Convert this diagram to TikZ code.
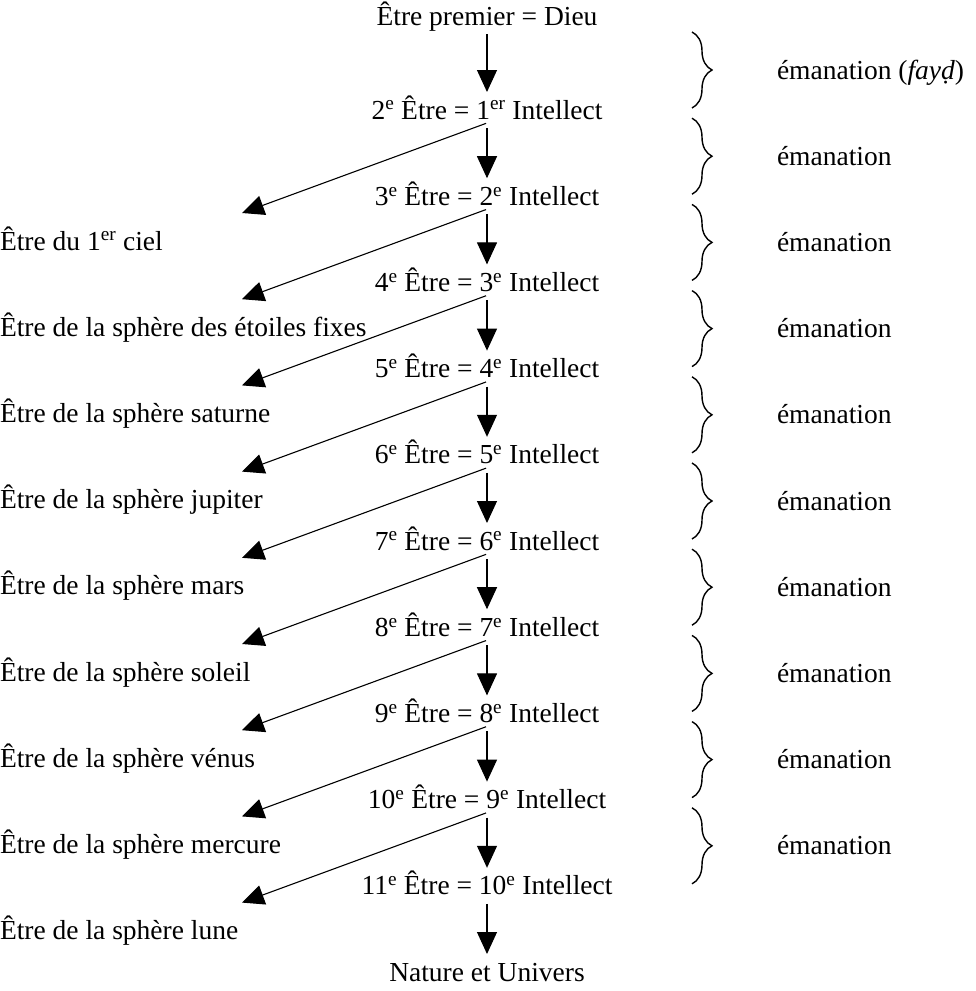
\documentclass[tikz,border=0pt]{standalone}
\usepackage{fontspec}
\setmainfont{Liberation Serif}
\usetikzlibrary{arrows.meta,decorations.pathreplacing}
\begin{document}
\begin{tikzpicture}[x=1pt,y=-1pt,
  txt/.style={font=\fontsize{27.5}{33}\selectfont, inner sep=0pt, outer sep=0pt, text height=22pt, text depth=4pt},
  arr/.style={line width=1.1pt, -{Triangle[length=22pt,width=20pt]}},
  brc/.style={line width=1.4pt, decorate, decoration={brace, amplitude=20pt}}]
\useasboundingbox (0,0) rectangle (976,991);
% central column
\node[txt] (c0) at (487,16) {Être premier = Dieu};
\node[txt] (c1) at (487,110) {2\textsuperscript{e} Être = 1\textsuperscript{er} Intellect};
\foreach \i [evaluate=\i as \n using int(\i+1), evaluate=\i as \y using 110+86.2*(\i-1)] in {2,...,10}
  \node[txt] (c\i) at (487,\y) {\n\textsuperscript{e} Être = \i\textsuperscript{e} Intellect};
\node[txt] (c11) at (487,972) {Nature et Univers};
% left labels
\node[txt, anchor=west] (l0) at (0,241) {Être du 1\textsuperscript{er} ciel};
\foreach \j/\s in {1/des étoiles fixes,2/saturne,3/jupiter,4/mars,5/soleil,6/vénus,7/mercure,8/lune}
  \node[txt, anchor=west] (l\j) at (0,241+86.2*\j) {Être de la sphère \s};
% vertical arrows
\foreach \i [evaluate=\i as \k using int(\i+1)] in {0,...,10}
  \draw[arr, shorten <=5pt, shorten >=5pt] (c\i.south) -- (c\k.north);
% diagonal arrows
\foreach \i [evaluate=\i as \j using int(\i-1)] in {1,...,9} {
  \coordinate (t\j) at (242,241+86.2*\j-28);
  \draw[arr, shorten <=1pt] (c\i.south) -- (t\j);
}
% braces and labels
\foreach \k in {0,...,9} {
  \coordinate (bt\k) at (692,70+86.2*\k-38);
  \coordinate (bb\k) at (692,70+86.2*\k+38);
  \draw[brc] (bt\k) -- (bb\k);
}
\node[txt, anchor=west] (e0) at (777,70) {émanation (\textit{fayḍ})};
\foreach \k in {1,...,9}
  \node[txt, anchor=west] (e\k) at (777,70+86.2*\k) {émanation};
\end{tikzpicture}
\end{document}
